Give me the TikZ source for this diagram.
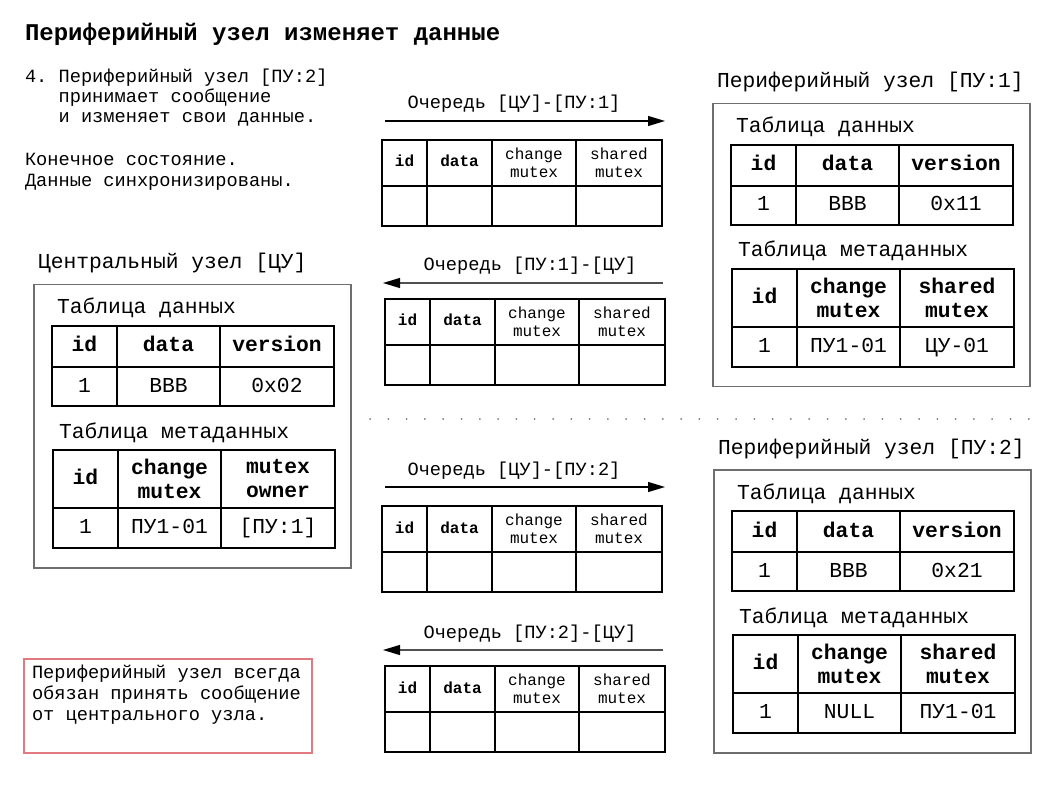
\documentclass[tikz,border=0pt]{standalone}
\usepackage{fontspec}
\setmainfont{Liberation Mono}
\usetikzlibrary{arrows.meta}
\frenchspacing
\definecolor{boxgray}{RGB}{110,110,110}
\definecolor{notered}{RGB}{226,120,128}
\definecolor{arrowgray}{RGB}{80,80,80}
\definecolor{dotgray}{RGB}{120,120,120}
\tikzset{
 lbl/.style={inner sep=0pt, outer sep=0pt, anchor=base west},
 bigf/.style={font=\fontsize{21.3}{24}\selectfont},
 midf/.style={font=\fontsize{18.67}{21}\selectfont},
 titlef/.style={font=\bfseries\fontsize{24}{28}\selectfont},
 cellbase/.style={draw, line width=1.2pt, inner sep=0pt, outer sep=0pt, anchor=north west},
 bcell/.style={cellbase, font=\fontsize{21.3}{24}\selectfont, text height=14pt, text depth=3pt},
 bbcell/.style={bcell, font=\bfseries\fontsize{21.3}{24}\selectfont},
 bmcell/.style={cellbase, align=center, font=\bfseries\fontsize{21.3}{24}\selectfont},
 qcell/.style={cellbase, font=\fontsize{16}{18}\selectfont, text height=10.5pt, text depth=2.5pt},
 qbcell/.style={qcell, font=\bfseries\fontsize{16}{18}\selectfont},
 qmcell/.style={cellbase, align=center, font=\fontsize{16}{18}\selectfont},
 nodebox/.style={draw=boxgray, line width=1.5pt, inner sep=0pt, anchor=north west, minimum width=317, minimum height=283},
 notebox/.style={draw=notered, line width=1.5pt, inner sep=0pt, anchor=north west},
 fwd/.style={line width=1.2pt, -{Triangle[length=17pt,width=10pt]}},
 back/.style={line width=1.2pt, draw=arrowgray, -{Triangle[length=17pt,width=10pt,color=black]}},
 dotline/.style={draw=dotgray, line width=2pt, line cap=round, dash pattern=on 0pt off 18.3pt},
 qlabel/.style={anchor=base, inner sep=0pt, font=\fontsize{18.67}{21}\selectfont},
}
% queue table: name, x, y
\newcommand\QTable[3]{%
 \node[qbcell, minimum width=45, minimum height=46] (#1-h1) at ({#2},{#3}) {id};
 \node[qbcell, minimum width=65, minimum height=46] (#1-h2) at ({#2+45},{#3}) {data};
 \node[qmcell, minimum width=84, minimum height=46] (#1-h3) at ({#2+110},{#3}) {change\\mutex};
 \node[qmcell, minimum width=86, minimum height=46] (#1-h4) at ({#2+194},{#3}) {shared\\mutex};
 \node[qcell, minimum width=45, minimum height=40] (#1-r1) at ({#2},{#3+46}) {};
 \node[qcell, minimum width=65, minimum height=40] (#1-r2) at ({#2+45},{#3+46}) {};
 \node[qcell, minimum width=84, minimum height=40] (#1-r3) at ({#2+110},{#3+46}) {};
 \node[qcell, minimum width=86, minimum height=40] (#1-r4) at ({#2+194},{#3+46}) {};
}
% data table: name, x, y, version
\newcommand\DTable[4]{%
 \node[bbcell, minimum width=65, minimum height=41] (#1-h1) at ({#2},{#3}) {id};
 \node[bbcell, minimum width=103, minimum height=41] (#1-h2) at ({#2+65},{#3}) {data};
 \node[bbcell, minimum width=114, minimum height=41] (#1-h3) at ({#2+168},{#3}) {version};
 \node[bcell, minimum width=65, minimum height=39] (#1-r1) at ({#2},{#3+41}) {1};
 \node[bcell, minimum width=103, minimum height=39] (#1-r2) at ({#2+65},{#3+41}) {BBB};
 \node[bcell, minimum width=114, minimum height=39] (#1-r3) at ({#2+168},{#3+41}) {#4};
}
% meta table: name, x, y, header3, value2, value3
\newcommand\MTable[6]{%
 \node[bbcell, minimum width=65, minimum height=58] (#1-h1) at ({#2},{#3}) {id};
 \node[bmcell, minimum width=103, minimum height=58] (#1-h2) at ({#2+65},{#3}) {change\\mutex};
 \node[bmcell, minimum width=114, minimum height=58] (#1-h3) at ({#2+168},{#3}) {#4};
 \node[bcell, minimum width=65, minimum height=40] (#1-r1) at ({#2},{#3+58}) {1};
 \node[bcell, minimum width=103, minimum height=40] (#1-r2) at ({#2+65},{#3+58}) {#5};
 \node[bcell, minimum width=114, minimum height=40] (#1-r3) at ({#2+168},{#3+58}) {#6};
}
% node box: name, x, y, title, version, header3, value2, value3
\newcommand\NodeBox[8]{%
 \node[nodebox] (#1) at ({#2},{#3}) {};
 \node[lbl,bigf] (#1-t) at ({#2+5},{#3-15}) {#4};
 \node[lbl,bigf] (#1-dl) at ({#2+24},{#3+30}) {Таблица данных};
 \DTable{#1-d}{#2+19}{#3+42}{#5}
 \node[lbl,bigf] (#1-ml) at ({#2+26},{#3+154}) {Таблица метаданных};
 \MTable{#1-m}{#2+20}{#3+166}{#6}{#7}{#8}
}
\begin{document}
\begin{tikzpicture}[x=1pt,y=-1pt]
\useasboundingbox (0,0) rectangle (1058,794);
\node[lbl,titlef] (title) at (25,41) {Периферийный узел изменяет данные};
\node[lbl,midf] (s1) at (25,83) {4. Периферийный узел [ПУ:2]};
\node[lbl,midf] (s2) at (58.6,103) {принимает сообщение};
\node[lbl,midf] (s3) at (58.6,123) {и изменяет свои данные.};
\node[lbl,midf] (f1) at (25,166) {Конечное состояние.};
\node[lbl,midf] (f2) at (25,187) {Данные синхронизированы.};

\NodeBox{pu1}{712}{103}{Периферийный узел [ПУ:1]}{0x11}{shared\\mutex}{ПУ1-01}{ЦУ-01}
\NodeBox{cu}{33}{284}{Центральный узел [ЦУ]}{0x02}{mutex\\owner}{ПУ1-01}{[ПУ:1]}
\NodeBox{pu2}{713}{469}{Периферийный узел [ПУ:2]}{0x21}{shared\\mutex}{NULL}{ПУ1-01}

% queues
\node[qlabel] (q1l) at (514,109) {Очередь [ЦУ]-[ПУ:1]};
\coordinate (q1a) at (385,121); \coordinate (q1b) at (665,121);
\draw[fwd] (q1a) -- (q1b);
\QTable{q1}{382}{140}

\node[qlabel] (q2l) at (530,271) {Очередь [ПУ:1]-[ЦУ]};
\coordinate (q2a) at (663,283); \coordinate (q2b) at (383,283);
\draw[back] (q2a) -- (q2b);
\QTable{q2}{385}{299}

\node[qlabel] (q3l) at (514,475) {Очередь [ЦУ]-[ПУ:2]};
\coordinate (q3a) at (385,487); \coordinate (q3b) at (665,487);
\draw[fwd] (q3a) -- (q3b);
\QTable{q3}{382}{506}

\node[qlabel] (q4l) at (530,638) {Очередь [ПУ:2]-[ЦУ]};
\coordinate (q4a) at (663,650); \coordinate (q4b) at (383,650);
\draw[back] (q4a) -- (q4b);
\QTable{q4}{385}{666}

% separator
\coordinate (d1) at (370,419); \coordinate (d2) at (1030,419);
\draw[dotline] (d1) -- (d2);

% note
\node[notebox, minimum width=288, minimum height=94] (note) at (23,658) {};
\node[lbl,midf] (n1) at (32,678) {Периферийный узел всегда};
\node[lbl,midf] (n2) at (32,699) {обязан принять сообщение};
\node[lbl,midf] (n3) at (32,720) {от центрального узла.};
\end{tikzpicture}
\end{document}
